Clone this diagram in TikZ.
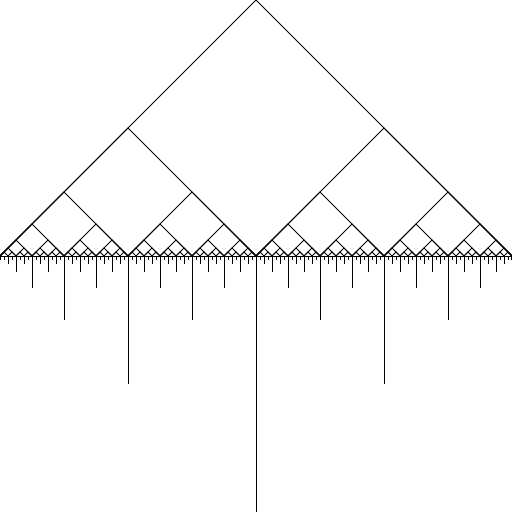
\documentclass[tikz,border=0pt]{standalone}
\begin{document}
\begin{tikzpicture}[x=1pt,y=-1pt,line width=1pt,line cap=rect,
  tri/.style={draw=black,line width=0.9pt},
  tick/.style={draw=black,line width=0.9pt}]
\useasboundingbox (0,0) rectangle (512,512);
% baseline
\draw[tick] (0,256) -- (512,256);
% nested triangles over dyadic intervals
\foreach \k in {0,...,6} {
  \pgfmathtruncatemacro\n{2^\k}
  \pgfmathsetmacro\w{512/\n}
  \foreach \i in {1,...,\n} {
    \draw[tri] ({(\i-1)*\w},256) -- ({(\i-0.5)*\w},{256-\w/2}) -- ({\i*\w},256);
  }
}
% ruler ticks
\foreach \s in {4,8,16,32,64,128,256} {
  \pgfmathtruncatemacro\m{256/\s}
  \foreach \j in {1,...,\m} {
    \draw[tick] ({(2*\j-1)*\s},256) -- ({(2*\j-1)*\s},{256+\s});
  }
}
\draw[tick] (0.5,256) -- (0.5,260);
\draw[tick] (511.5,256) -- (511.5,260);
\end{tikzpicture}
\end{document}
